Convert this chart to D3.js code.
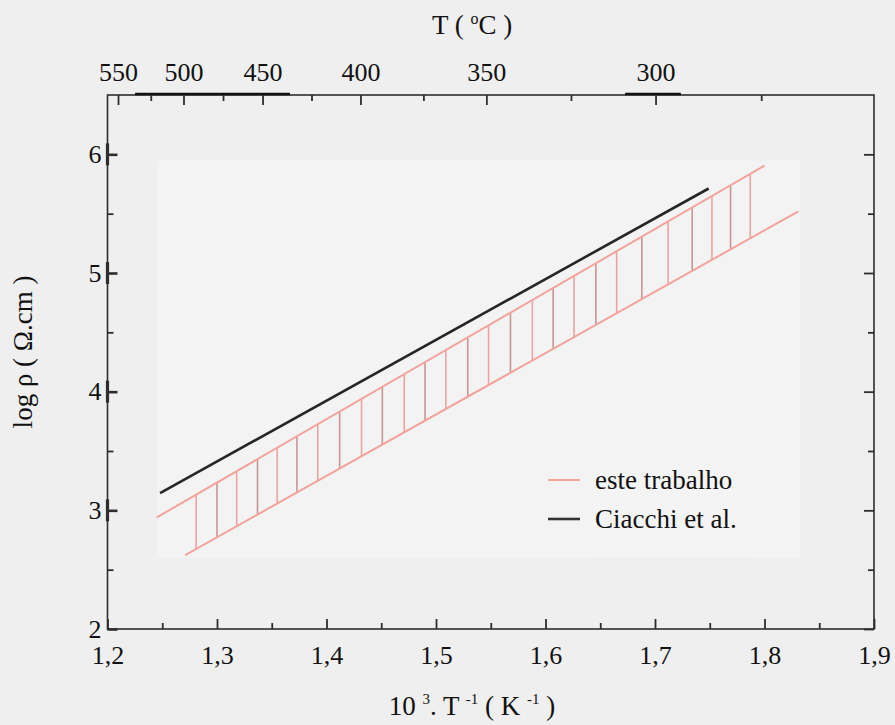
<!DOCTYPE html>
<html>
<head>
<meta charset="utf-8">
<script src="https://cdn.jsdelivr.net/npm/d3@7"></script>
<style>
  body { margin: 0; background: #efefef; }
  svg text { font-family: "Liberation Serif", "Times New Roman", Times, "DejaVu Serif", serif !important; }
</style>
</head>
<body>
<svg id="chart" width="895" height="725"></svg>
<script>
// ---- data ----
// bottom axis: 10^3 / T  (K^-1)
const xMajorTicks = [1.2, 1.3, 1.4, 1.5, 1.6, 1.7, 1.8, 1.9];
const xMinorTicks = [1.25, 1.35, 1.45, 1.55, 1.65, 1.75, 1.85];
const xTickLabels = ["1,2", "1,3", "1,4", "1,5", "1,6", "1,7", "1,8", "1,9"];
// left axis: log rho (ohm.cm)
const yMajorTicks = [2, 3, 4, 5, 6];
const yMinorTicks = [2.5, 3.5, 4.5, 5.5];
// top axis: temperature in degC and where each one sits on the 10^3/T axis
const tempLabels = [550, 500, 450, 400, 350, 300];
const tempMinor = [525, 475, 425, 375, 325, 275];
const tempAnchors = [550, 500, 450, 400, 350, 300, 275];
const tempAnchorInvT = [1.2096, 1.2694, 1.3416, 1.431, 1.546, 1.7005, 1.797];
// heavier stretches of the top axis line (degC ranges)
const tempHeavy = [[537, 436], [309, 294]];

// "este trabalho": upper and lower limits of the band
const upperInvT = [1.245, 1.800];
const upperLogRho = [2.94, 5.905];
const lowerInvT = [1.271, 1.831];
const lowerLogRho = [2.623, 5.52];
// positions of the vertical hatch strokes across the band
const hatchInvT = [1.281, 1.300, 1.318, 1.337, 1.355, 1.373, 1.392, 1.412, 1.432,
                   1.451, 1.471, 1.490, 1.509, 1.529, 1.548, 1.568, 1.588, 1.607,
                   1.626, 1.646, 1.665, 1.688, 1.712, 1.734, 1.752, 1.769, 1.787];
// Ciacchi et al.
const ciacchiInvT = [1.248, 1.749];
const ciacchiLogRho = [3.145, 5.712];

const legendLabels = ["este trabalho", "Ciacchi et al."];

// ---- layout ----
const W = 895, H = 725;
const m = { left: 107.5, right: W - 874, top: 95, bottom: H - 629 };
const svg = d3.select("#chart");

const x = d3.scaleLinear().domain([1.2, 1.9]).range([m.left, W - m.right]);
const y = d3.scaleLinear().domain([2, 6.5]).range([H - m.bottom, m.top]);
const tempToInvT = d3.scaleLinear().domain(tempAnchors).range(tempAnchorInvT);

const plotL = x(1.2), plotR = x(1.9), plotT = y(6.5), plotB = y(2);

// lighter inner panel
svg.append("rect")
  .attr("x", x(1.2452)).attr("y", y(5.95))
  .attr("width", x(1.833) - x(1.2452)).attr("height", y(2.6) - y(5.95))
  .attr("fill", "#f3f3f3");

// ---- band (este trabalho) ----
const upperPts = upperInvT.map((v, i) => [v, upperLogRho[i]]);
const lowerPts = lowerInvT.map((v, i) => [v, lowerLogRho[i]]);
const upperAt = d3.scaleLinear().domain(upperInvT).range(upperLogRho);
const lowerAt = d3.scaleLinear().domain(lowerInvT).range(lowerLogRho);

const hatchColors = ["#eba3a3", "#c99494"];
svg.append("g").selectAll("line")
  .data(hatchInvT)
  .join("line")
  .attr("x1", d => x(d)).attr("x2", d => x(d))
  .attr("y1", d => y(upperAt(d))).attr("y2", d => y(lowerAt(d)))
  .attr("stroke", (d, i) => hatchColors[i % 2])
  .attr("stroke-width", 1.6);

const line = d3.line().x(d => x(d[0])).y(d => y(d[1]));
svg.append("path").attr("d", line(upperPts))
  .attr("fill", "none").attr("stroke", "#f2a49c").attr("stroke-width", 2);
svg.append("path").attr("d", line(lowerPts))
  .attr("fill", "none").attr("stroke", "#f2a49c").attr("stroke-width", 2);

// ---- Ciacchi et al. ----
const ciacchiPts = ciacchiInvT.map((v, i) => [v, ciacchiLogRho[i]]);
svg.append("path").attr("d", line(ciacchiPts))
  .attr("fill", "none").attr("stroke", "#262626").attr("stroke-width", 2.6);

// ---- legend ----
const lg = svg.append("g").attr("transform", "translate(548,480)");
lg.append("rect").attr("x", 45).attr("y", -18).attr("width", 157).attr("height", 95)
  .attr("fill", "#f4f4f4");
const legendStroke = [["#f2a49c", 2], ["#333", 2.6]];
legendLabels.forEach((t, i) => {
  lg.append("line").attr("x1", 0).attr("x2", 32).attr("y1", i * 39).attr("y2", i * 39)
    .attr("stroke", legendStroke[i][0]).attr("stroke-width", legendStroke[i][1]);
  lg.append("text").attr("x", 47).attr("y", i * 39 + 9)
    .attr("font-size", 27).attr("fill", "#111").text(t);
});

// ---- axes frame ----
const axisColor = "#2e2e2e";
const frame = svg.append("g").attr("stroke", axisColor).attr("fill", "none");
frame.append("rect").attr("x", plotL).attr("y", plotT)
  .attr("width", plotR - plotL).attr("height", plotB - plotT).attr("stroke-width", 1.6);
frame.selectAll("line.heavy").data(tempHeavy).join("line").attr("class", "heavy")
  .attr("x1", d => x(tempToInvT(d[0]))).attr("x2", d => x(tempToInvT(d[1])))
  .attr("y1", plotT - 1).attr("y2", plotT - 1)
  .attr("stroke", "#111").attr("stroke-width", 2.6);

// bottom axis ticks (inward)
const axBottom = svg.append("g").attr("transform", `translate(0,${plotB})`);
axBottom.call(d3.axisBottom(x).tickValues(xMajorTicks).tickSize(-10)
  .tickFormat((d, i) => xTickLabels[i]).tickPadding(17));
axBottom.append("g").call(d3.axisBottom(x).tickValues(xMinorTicks).tickSize(-6).tickFormat(""));

// left axis ticks (inward)
const axLeft = svg.append("g").attr("transform", `translate(${plotL},0)`);
axLeft.call(d3.axisLeft(y).tickValues(yMajorTicks).tickSize(-10).tickPadding(6)
  .tickFormat(d3.format("d")));
axLeft.append("g").call(d3.axisLeft(y).tickValues(yMinorTicks).tickSize(-6).tickFormat(""));
// heavy marks on the axis line at each major value
axLeft.append("g").selectAll("line").data(yMajorTicks.filter(d => d > 2)).join("line")
  .attr("x1", 0).attr("x2", 0)
  .attr("y1", d => y(d) - 11).attr("y2", d => y(d) + 11)
  .attr("stroke", axisColor).attr("stroke-width", 3.2);

// right axis ticks (inward)
const axRight = svg.append("g").attr("transform", `translate(${plotR},0)`);
axRight.call(d3.axisRight(y).tickValues(yMajorTicks).tickSize(-10).tickFormat(""));
axRight.append("g").call(d3.axisRight(y).tickValues(yMinorTicks).tickSize(-6).tickFormat(""));

// top axis (temperature)
const axTop = svg.append("g").attr("transform", `translate(0,${plotT})`);
axTop.call(d3.axisTop(x).tickValues(tempLabels.map(tempToInvT)).tickSize(-10).tickPadding(14)
  .tickFormat((d, i) => tempLabels[i]));
axTop.append("g").call(d3.axisTop(x).tickValues(tempMinor.map(tempToInvT)).tickSize(-6).tickFormat(""));

svg.selectAll(".domain").remove();
svg.selectAll(".tick line").attr("stroke", axisColor).attr("stroke-width", 1.8);
svg.selectAll(".tick text").attr("font-size", 26).attr("fill", "#111");
axLeft.selectAll(".tick line").filter(d => yMajorTicks.includes(d)).attr("stroke-width", 2.6);

// ---- titles ----
const tTop = svg.append("text").attr("x", 472).attr("y", 34).attr("text-anchor", "middle")
  .attr("font-size", 27).attr("fill", "#111");
tTop.append("tspan").text("T ( ");
tTop.append("tspan").attr("dy", -10).attr("font-size", 16).text("o");
tTop.append("tspan").attr("dy", 10).text("C )");

const tBot = svg.append("text").attr("x", 472).attr("y", 715).attr("text-anchor", "middle")
  .attr("font-size", 27).attr("fill", "#111");
tBot.append("tspan").text("10 ");
tBot.append("tspan").attr("dy", -11).attr("font-size", 15).text("3");
tBot.append("tspan").attr("dy", 11).text(". T ");
tBot.append("tspan").attr("dy", -11).attr("font-size", 15).text("-1");
tBot.append("tspan").attr("dy", 11).text(" ( K ");
tBot.append("tspan").attr("dy", -11).attr("font-size", 15).text("-1");
tBot.append("tspan").attr("dy", 11).text(" )");

svg.append("text")
  .attr("transform", "translate(32,352) rotate(-90)")
  .attr("text-anchor", "middle").attr("font-size", 27).attr("fill", "#111")
  .text("log \u03C1 ( \u03A9.cm )");
</script>
</body>
</html>
